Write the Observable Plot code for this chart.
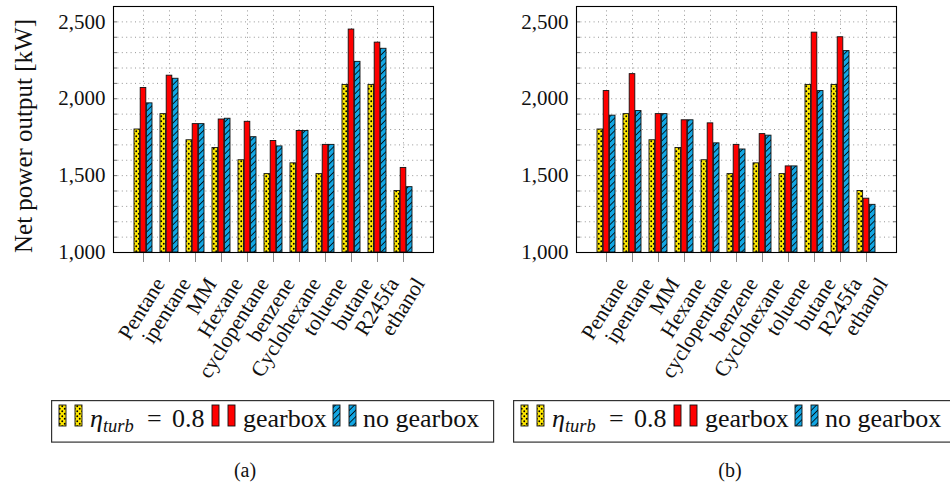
<!DOCTYPE html>
<html><head><meta charset="utf-8">
<script src="https://cdn.jsdelivr.net/npm/d3@7"></script>
<script src="https://cdn.jsdelivr.net/npm/@observablehq/plot@0.6"></script>
<style>
html,body{margin:0;padding:0;background:#fff;overflow:hidden;width:950px;height:485px;}
#root{position:relative;width:950px;height:485px;font-family:"Liberation Serif","Times New Roman","DejaVu Serif",serif;overflow:hidden;}
#root svg, #root svg text{font-family:"Liberation Serif","Times New Roman","DejaVu Serif",serif !important;}
.abs{position:absolute;}
</style></head>
<body>
<svg width="0" height="0" style="position:absolute">
<defs>
<pattern id="pdots" patternUnits="userSpaceOnUse" width="5" height="5">
<rect width="5" height="5" fill="#ffe800"/>
<circle cx="1.25" cy="1.25" r="0.95" fill="#000"/>
<circle cx="3.75" cy="3.75" r="0.95" fill="#000"/>
</pattern>
<pattern id="plines" patternUnits="userSpaceOnUse" width="4.5" height="4.5" patternTransform="rotate(45)">
<rect width="4.5" height="4.5" fill="#12a6e3"/>
<line x1="2.25" y1="0" x2="2.25" y2="4.5" stroke="#000" stroke-width="0.8"/>
</pattern>
</defs></svg>
<div id="root"></div>
<script>
const categories = ["Pentane","ipentane","MM","Hexane","cyclopentane","benzene","Cyclohexane","toluene","butane","R245fa","ethanol"];
const seriesLabels = ["η_turb = 0.8", "gearbox", "no gearbox"];
const etaA    = [1800,1900,1730,1680,1600,1510,1580,1510,2090,2090,1400];
const gearA   = [2070,2150,1835,1865,1850,1725,1790,1700,2450,2365,1550];
const noGearA = [1970,2130,1835,1870,1750,1690,1790,1700,2240,2325,1425];
const etaB    = [1800,1900,1730,1680,1600,1510,1580,1510,2090,2090,1400];
const gearB   = [2050,2160,1900,1860,1840,1700,1770,1560,2430,2400,1350];
const noGearB = [1890,1920,1900,1860,1710,1670,1760,1560,2050,2310,1310];
const yTicks = [1000,1500,2000,2500];
const yMinorStep = 100;
const yDomain = [1000, 2600];
const yTitle = "Net power output [kW]";
const captions = ["(a)", "(b)"];

const FONT = '"Liberation Serif","Times New Roman","DejaVu Serif",serif';
const root = document.getElementById("root");
const minorTicks = d3.range(yDomain[0], yDomain[1] + 1, yMinorStep);

function chart(eta, gear, nogear, ml, mr) {
  const rows = categories.map((c, i) => ({cat: c, eta: eta[i], gear: gear[i], nogear: nogear[i]}));
  const bw = 18.6, sub = bw / 3;
  const common = {x: "cat", y1: yDomain[0], stroke: "#111", strokeWidth: 0.9};
  const gridStyle = {stroke: "#8a8a8a", strokeOpacity: 1, strokeDasharray: "1,3.4", strokeWidth: 0.9};
  return Plot.plot({
    width: 475, height: 390, marginLeft: ml, marginRight: mr, marginTop: 6, marginBottom: 138,
    style: {fontFamily: FONT, fontSize: "21px", background: "transparent", overflow: "visible"},
    x: {domain: categories, paddingInner: 0.3025, paddingOuter: 0.651, label: null},
    y: {domain: yDomain, label: null},
    marks: [
      Plot.gridY({ticks: minorTicks, ...gridStyle}),
      Plot.gridX({...gridStyle}),
      Plot.barY(rows, {...common, y2: "eta", fill: "url(#pdots)", insetRight: 2 * sub}),
      Plot.barY(rows, {...common, y2: "gear", fill: "#ff0000", insetLeft: sub, insetRight: sub}),
      Plot.barY(rows, {...common, y2: "nogear", fill: "url(#plines)", insetLeft: 2 * sub}),
      Plot.axisY({anchor: "left", ticks: minorTicks, tickSize: -4, tickFormat: () => "", stroke: "#777", label: null}),
      Plot.axisY({anchor: "right", ticks: minorTicks, tickSize: -4, tickFormat: () => "", stroke: "#777", label: null}),
      Plot.axisY({anchor: "left", ticks: yTicks, tickSize: 0, tickPadding: 8, tickFormat: d3.format(","), fontSize: 21, fill: "#111", label: null}),
      Plot.axisX({anchor: "bottom", tickSize: 10, tickFormat: () => "", stroke: "#888", label: null}),
      Plot.text(categories, {x: d => d, frameAnchor: "bottom", rotate: -58, textAnchor: "end", lineAnchor: "bottom", dx: 22, dy: 31, fontSize: 21.5, fill: "#111"}),
      Plot.frame({stroke: "#000", strokeWidth: 1.1})
    ]
  });
}

function place(el, left, top) {
  el.classList.add("abs");
  el.style.left = left + "px";
  el.style.top = top + "px";
  root.appendChild(el);
}

place(chart(etaA, gearA, noGearA, 113, 42), 0, 0);
place(chart(etaB, gearB, noGearB, 101, 54), 475, 0);

function legend(left) {
  const svg = d3.create("svg").attr("width", 445).attr("height", 44)
    .style("font-family", FONT).style("overflow", "visible");
  svg.append("rect").attr("x", 0.6).attr("y", 0.6).attr("width", 442).attr("height", 41.5)
    .attr("fill", "white").attr("stroke", "#333").attr("stroke-width", 1.2);
  const sw = (x, fill) => svg.append("rect").attr("x", x).attr("y", 5).attr("width", 7).attr("height", 21)
    .attr("fill", fill).attr("stroke", "#111").attr("stroke-width", 0.9);
  sw(8, "url(#pdots)"); sw(24, "url(#pdots)");
  sw(161, "#ff0000"); sw(177, "#ff0000");
  sw(282, "url(#plines)"); sw(298, "url(#plines)");
  const t = svg.append("text").attr("x", 39).attr("y", 27).attr("font-size", 26).attr("fill", "#111");
  t.append("tspan").attr("font-style", "italic").text("η");
  t.append("tspan").attr("font-style", "italic").attr("font-size", 18.5).attr("dy", 5).text("turb");
  svg.append("text").attr("x", 96).attr("y", 27).attr("font-size", 26).attr("fill", "#111").text("=");
  svg.append("text").attr("x", 121).attr("y", 27).attr("font-size", 26).attr("fill", "#111").text("0.8");
  svg.append("text").attr("x", 192).attr("y", 27).attr("font-size", 26).attr("fill", "#111").text(seriesLabels[1]);
  svg.append("text").attr("x", 312).attr("y", 27).attr("font-size", 26).attr("fill", "#111").text(seriesLabels[2]);
  place(svg.node(), left, 400);
}
legend(51);
legend(513);

function caption(text, cx) {
  const d = document.createElement("div");
  d.textContent = text;
  d.style.cssText = "font-size:20px;width:60px;text-align:center;line-height:24px;color:#111;";
  place(d, cx - 30, 458);
}
caption(captions[0], 245);
caption(captions[1], 730);

const ty = d3.create("svg").attr("width", 50).attr("height", 270);
ty.append("text").attr("transform", "translate(32,136) rotate(-90)").attr("text-anchor", "middle")
  .attr("font-size", 25).attr("fill", "#111").text(yTitle);
place(ty.node(), 0, 0);
</script>
</body></html>
